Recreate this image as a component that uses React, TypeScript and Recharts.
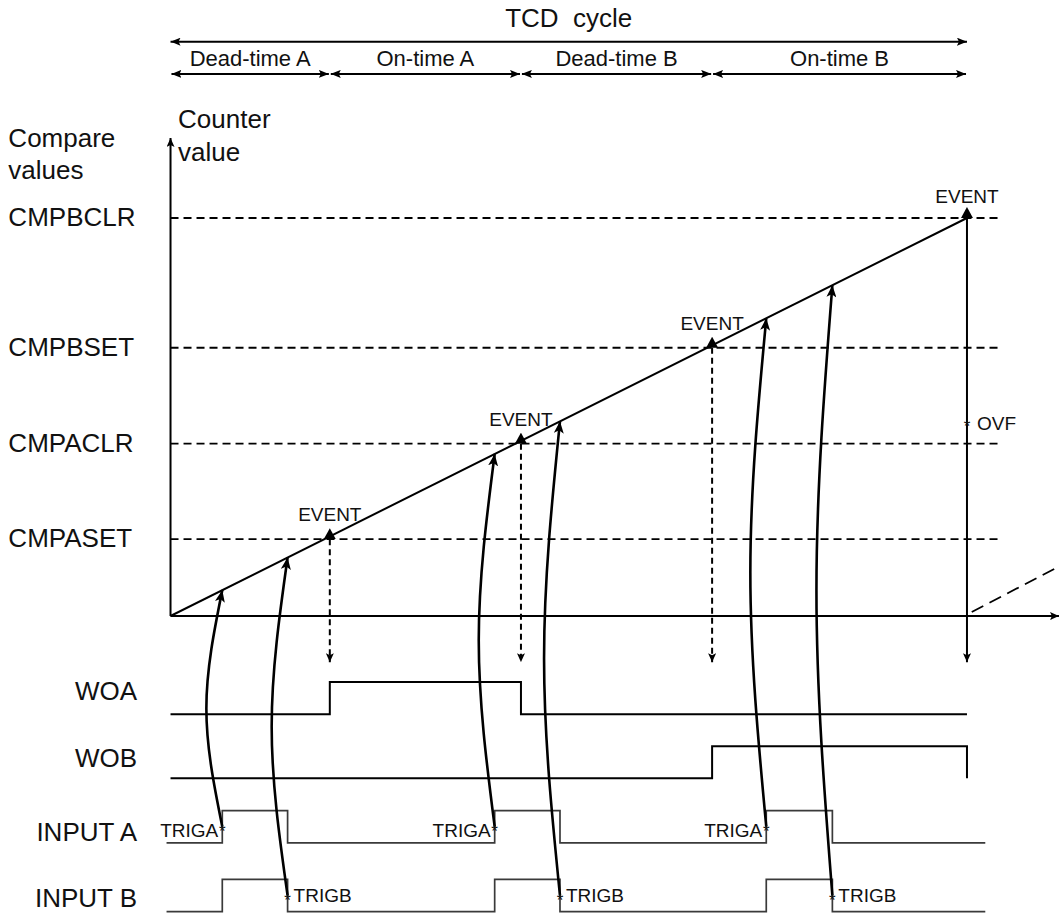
import React from 'react';
import { ComposedChart, Line, XAxis, YAxis, ReferenceDot } from 'recharts';

// ---------------- data (time in counter ticks, counter value in ticks) ----------------
const phaseLabels = ['Dead-time A', 'On-time A', 'Dead-time B', 'On-time B'];
const phaseBounds = [0, 20, 44, 68, 100];
const compareLabels = ['CMPASET', 'CMPACLR', 'CMPBSET', 'CMPBCLR'];
const compareValues = [19.3, 43.3, 67.4, 100];
const eventTimes = [20, 44, 68, 100];
const counterTimes = [0, 100];
const counterValues = [0, 100];
const nextCycleTimes = [100.6, 111.7];
const nextCycleValues = [1, 12.6];
const signalLabels = ['WOA', 'WOB', 'INPUT A', 'INPUT B'];
const woaTimes = [0, 20, 44, 100];
const woaLevels = [0, 1, 0, 0];
const wobTimes = [0, 68, 100];
const wobLevels = [0, 1, 0];
const inputATimes = [-0.5, 6.5, 14.7, 40.7, 48.9, 74.8, 83.1, 102.3];
const inputALevels = [0, 1, 0, 1, 0, 1, 0, 0];
const inputBTimes = [-0.5, 6.5, 14.7, 40.7, 48.9, 74.8, 83.1, 102.3];
const inputBLevels = [0, 1, 0, 1, 0, 1, 0, 0];
const trigATimes = [6.5, 40.7, 74.8];
const trigBTimes = [14.7, 48.9, 83.1];
const ovfValue = 48.7;

// ---------------- layout (axis domains / row placement) ----------------
const X_DOMAIN: [number, number] = [-21.41, 111.68];
const Y_DOMAIN: [number, number] = [-75.13, 154.77];
const ROW_BASE = [-24.7, -40.8, -57.0, -74.3];
const PULSE = 8.1;
const ROW_LABEL_V = [-21.1, -38.0, -56.5, -73.2];
const ROW_LABEL_T = -4.2;
const LEFT_T = -20.36;
const COUNTER_LABEL_T = 0.95;
const DASH_END_T = 103.9;
const DROP_END_V = -11.6;
const Y_AXIS_TOP_V = 120.1;
const X_AXIS_END_T = 111.55;
const CYCLE_ARROW_V = 144.3;
const PHASE_ARROW_V = 136.2;
const TITLE_V = 148.1;
const PHASE_LABEL_V = 138.2;
const BULGE = 2.0;

const FONT = '"Liberation Sans", Arial, Helvetica, sans-serif';

const pts = (ts: number[], vs: number[]) => ts.map((t, i) => ({ t, v: vs[i] }));
const counterAt = (t: number) => {
  for (let i = 0; i < counterTimes.length - 1; i++) {
    const t0 = counterTimes[i];
    const t1 = counterTimes[i + 1];
    if (t >= t0 && t <= t1) {
      return counterValues[i] + ((counterValues[i + 1] - counterValues[i]) * (t - t0)) / (t1 - t0);
    }
  }
  return counterValues[counterValues.length - 1];
};

const lines: React.ReactNode[] = [];
const addLine = (key: string, data: { t: number; v: number }[], props: any = {}) => {
  lines.push(
    <Line
      key={key}
      data={data}
      dataKey="v"
      type="linear"
      stroke="#000"
      strokeWidth={2}
      dot={false}
      activeDot={false}
      legendType="none"
      isAnimationActive={false}
      {...props}
    />
  );
};

// counter axes
addLine('yaxis', [{ t: 0, v: 0 }, { t: 0, v: Y_AXIS_TOP_V }], { markerEnd: 'url(#mSm)' });
addLine('xaxis', [{ t: 0, v: 0 }, { t: X_AXIS_END_T, v: 0 }], { markerEnd: 'url(#mSm)' });

// compare levels (dashed)
compareValues.forEach((c, i) => {
  addLine('cmp' + i, [{ t: 0, v: c }, { t: DASH_END_T, v: c }], { strokeDasharray: '8 5', strokeWidth: 1.8 });
});

// counter ramp and next cycle
addLine('ramp', pts(counterTimes, counterValues), { strokeWidth: 2 });
addLine('next', pts(nextCycleTimes, nextCycleValues), { strokeDasharray: '13 7', strokeWidth: 1.8 });

// event drops
eventTimes.forEach((t, i) => {
  const last = i === eventTimes.length - 1;
  addLine('ev' + i, [{ t, v: compareValues[i] }, { t, v: DROP_END_V }], {
    strokeDasharray: last ? undefined : '6 4',
    strokeWidth: 2,
    markerStart: 'url(#mTri)',
    markerEnd: 'url(#mSm)',
  });
});

// signals
const signals = [
  { times: woaTimes, levels: woaLevels, color: '#000', w: 2 },
  { times: wobTimes, levels: wobLevels, color: '#000', w: 2 },
  { times: inputATimes, levels: inputALevels, color: '#3a3a3a', w: 1.7 },
  { times: inputBTimes, levels: inputBLevels, color: '#3a3a3a', w: 1.7 },
];
signals.forEach((s, r) => {
  addLine(
    'sig' + r,
    s.times.map((t, i) => ({ t, v: ROW_BASE[r] + s.levels[i] * PULSE })),
    { type: 'stepAfter', stroke: s.color, strokeWidth: s.w }
  );
});

// trigger curves
const rowMid = (r: number) => ROW_BASE[r] + PULSE / 2;
const curve = (key: string, t: number, r: number) => {
  const v0 = rowMid(r);
  const v1 = counterAt(t);
  addLine(key, [{ t, v: v0 }, { t: t - BULGE, v: (v0 + v1) / 2 }, { t, v: v1 }], {
    type: 'natural',
    strokeWidth: 2.6,
    markerEnd: 'url(#mArrow)',
  });
};
trigATimes.forEach((t, i) => curve('ta' + i, t, 2));
trigBTimes.forEach((t, i) => curve('tb' + i, t, 3));

// top cycle arrows
addLine('cycle', [{ t: phaseBounds[0], v: CYCLE_ARROW_V }, { t: phaseBounds[phaseBounds.length - 1], v: CYCLE_ARROW_V }], {
  strokeWidth: 2,
  markerStart: 'url(#mTop)',
  markerEnd: 'url(#mTop)',
});
phaseLabels.forEach((_, i) => {
  addLine('ph' + i, [{ t: phaseBounds[i] + 0.12, v: PHASE_ARROW_V }, { t: phaseBounds[i + 1] - 0.12, v: PHASE_ARROW_V }], {
    strokeWidth: 2,
    markerStart: 'url(#mTop)',
    markerEnd: 'url(#mTop)',
  });
});

// ---------------- texts ----------------
type TextItem = { t: number; v: number; text: string; anchor?: 'start' | 'middle' | 'end'; size: number; dx?: number; dy?: number };
const texts: TextItem[] = [];
texts.push({ t: LEFT_T, v: 117.9, text: 'Compare', size: 26 });
texts.push({ t: LEFT_T, v: 109.8, text: 'values', size: 26 });
texts.push({ t: COUNTER_LABEL_T, v: 122.5, text: 'Counter', size: 26 });
texts.push({ t: COUNTER_LABEL_T, v: 114.3, text: 'value', size: 26 });
compareLabels.forEach((l, i) => texts.push({ t: LEFT_T, v: compareValues[i], text: l, size: 26, dy: 8 }));
signalLabels.forEach((l, i) => texts.push({ t: ROW_LABEL_T, v: ROW_LABEL_V[i], text: l, size: 26, anchor: 'end' }));
texts.push({ t: (phaseBounds[0] + phaseBounds[phaseBounds.length - 1]) / 2, v: TITLE_V, text: 'TCD  cycle', size: 26, anchor: 'middle' });
phaseLabels.forEach((l, i) =>
  texts.push({ t: (phaseBounds[i] + phaseBounds[i + 1]) / 2, v: PHASE_LABEL_V, text: l, size: 22, anchor: 'middle' })
);
eventTimes.forEach((t, i) =>
  texts.push({ t, v: compareValues[i], text: 'EVENT', size: 19, anchor: 'middle', dy: i === eventTimes.length - 1 ? -15 : -18 })
);
texts.push({ t: eventTimes[eventTimes.length - 1], v: ovfValue, text: '*', size: 17, anchor: 'middle', dy: 10 });
texts.push({ t: eventTimes[eventTimes.length - 1], v: ovfValue, text: 'OVF', size: 19, dx: 10, dy: 8 });
trigATimes.forEach((t) => {
  texts.push({ t, v: rowMid(2), text: '*', size: 17, anchor: 'middle', dy: 10 });
  texts.push({ t, v: rowMid(2), text: 'TRIGA', size: 19, anchor: 'end', dx: -4, dy: 10 });
});
trigBTimes.forEach((t) => {
  texts.push({ t, v: rowMid(3), text: '*', size: 17, anchor: 'middle', dy: 10 });
  texts.push({ t, v: rowMid(3), text: 'TRIGB', size: 19, dx: 6, dy: 6 });
});

const textShape = (it: TextItem) => (p: any) => (
  <text
    x={p.cx + (it.dx || 0)}
    y={p.cy + (it.dy || 0)}
    textAnchor={it.anchor || 'start'}
    fontSize={it.size}
    fontFamily={FONT}
    fill="#111"
    style={{ whiteSpace: 'pre' }}
  >
    {it.text}
  </text>
);

export default function App() {
  return (
    <div style={{ position: 'absolute', left: 0, top: 0, width: 1060, height: 915, background: '#fff' }}>
      <ComposedChart width={1060} height={915} margin={{ top: 0, right: 0, bottom: 0, left: 0 }}>
        <defs>
          <marker id="mArrow" viewBox="0 0 12 10" refX="12" refY="5" markerWidth="12" markerHeight="10" markerUnits="userSpaceOnUse" orient="auto-start-reverse">
            <path d="M0,0 L12,5 L0,10 L3,5 Z" fill="#000" />
          </marker>
          <marker id="mSm" viewBox="0 0 9 8" refX="9" refY="4" markerWidth="9" markerHeight="8" markerUnits="userSpaceOnUse" orient="auto-start-reverse">
            <path d="M0,0 L9,4 L0,8 L2,4 Z" fill="#000" />
          </marker>
          <marker id="mTop" viewBox="0 0 10 8" refX="10" refY="4" markerWidth="10" markerHeight="8" markerUnits="userSpaceOnUse" orient="auto-start-reverse">
            <path d="M0,0 L10,4 L0,8 L2,4 Z" fill="#000" />
          </marker>
          <marker id="mTri" viewBox="0 0 11 12" refX="0" refY="6" markerWidth="11" markerHeight="12" markerUnits="userSpaceOnUse" orient="auto-start-reverse">
            <path d="M0,0 L11,6 L0,12 Z" fill="#000" />
          </marker>
        </defs>
        <XAxis hide type="number" dataKey="t" domain={X_DOMAIN} allowDataOverflow />
        <YAxis hide type="number" dataKey="v" domain={Y_DOMAIN} allowDataOverflow />
        {lines}
        {texts.map((it, i) => (
          <ReferenceDot key={'tx' + i} x={it.t} y={it.v} r={1} ifOverflow="visible" shape={textShape(it)} />
        ))}
      </ComposedChart>
    </div>
  );
}
